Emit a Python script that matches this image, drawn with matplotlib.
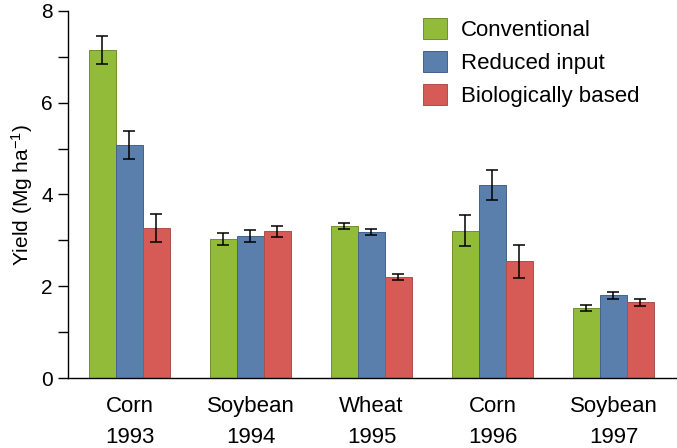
import numpy as np
import matplotlib
matplotlib.use("Agg")
import matplotlib.pyplot as plt
from matplotlib.patches import Patch

plt.rcParams['font.family'] = ['Liberation Sans', 'DejaVu Sans']
plt.rcParams['mathtext.default'] = 'regular'

# data
crops = ["Corn", "Soybean", "Wheat", "Corn", "Soybean"]
years = ["1993", "1994", "1995", "1996", "1997"]
systems = ["Conventional", "Reduced input", "Biologically based"]

conventional = [7.15, 3.03, 3.31, 3.21, 1.53]
reduced = [5.08, 3.10, 3.18, 4.20, 1.80]
biological = [3.27, 3.20, 2.20, 2.54, 1.65]

conventional_err = [0.30, 0.13, 0.07, 0.34, 0.07]
reduced_err = [0.30, 0.13, 0.07, 0.33, 0.07]
biological_err = [0.31, 0.12, 0.07, 0.35, 0.07]

colors = ["#91BB39", "#5A7FAD", "#D65B56"]
edges = ["#6E8F2A", "#45628A", "#A9504C"]

fig = plt.figure(figsize=(6.77, 4.48), dpi=100)
ax = fig.add_axes([68 / 677, 70 / 448, 609 / 677, 367 / 448])

x = np.arange(len(crops))
width = 0.223
series = [conventional, reduced, biological]
errs = [conventional_err, reduced_err, biological_err]

for i, (vals, err) in enumerate(zip(series, errs)):
    ax.bar(x + (i - 1) * width, vals, width, color=colors[i],
           edgecolor=edges[i], linewidth=0.7, label=systems[i])
    ax.errorbar(x + (i - 1) * width, vals, yerr=err, fmt="none",
                ecolor="black", elinewidth=1.1, capsize=4.5, capthick=1.1)

ax.set_xlim(-0.508, 4.525)
ax.set_ylim(0, 8)
ax.set_yticks(range(0, 9))
ax.set_yticklabels([str(v) if v % 2 == 0 else "" for v in range(0, 9)])
ax.tick_params(axis="y", length=7, width=1, labelsize=15, pad=4)
ax.set_xticks(x)
ax.set_xticklabels([f"{c}\n{y}" for c, y in zip(crops, years)],
                   linespacing=1.6)
ax.tick_params(axis="x", length=0, labelsize=16, pad=13)

for side in ["top", "right"]:
    ax.spines[side].set_visible(False)
ax.spines["left"].set_linewidth(1)
ax.spines["bottom"].set_linewidth(1)

ax.set_ylabel("Yield (Mg ha$^{-1}$)", fontsize=15, labelpad=4)

handles = [Patch(facecolor=c, edgecolor=e, linewidth=0.7) for c, e in zip(colors, edges)]
ax.legend(handles, systems, loc="upper left", bbox_to_anchor=(0.55, 1.035),
          frameon=False, fontsize=16, handlelength=1.08, handleheight=1.08,
          handletextpad=0.63, labelspacing=0.45)

fig.savefig("out.png", dpi=100)
